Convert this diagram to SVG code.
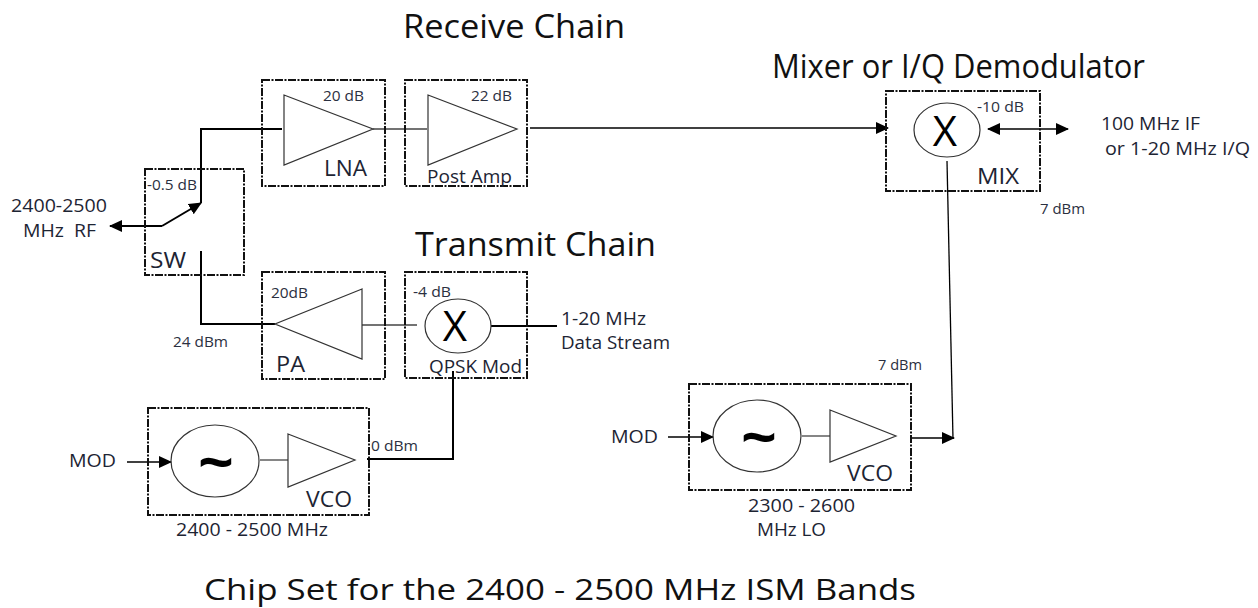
<svg xmlns="http://www.w3.org/2000/svg" width="1258" height="608" viewBox="0 0 1258 608">
<defs>
<marker id="ah" markerWidth="14" markerHeight="12" refX="12" refY="6" orient="auto-start-reverse" markerUnits="userSpaceOnUse"><path d="M0,0 L13,6 L0,12 Z" fill="#000"/></marker>
</defs>
<style>
text{font-family:"Open Sans","Noto Sans","DejaVu Sans",sans-serif;fill:#1d2433;white-space:pre}
.box{fill:none;stroke:#111;stroke-width:2;stroke-dasharray:8 1.5 2 1.5}
.sym{fill:none;stroke:#333;stroke-width:1.2}
.w{fill:none;stroke:#000;stroke-width:2}
.t{fill:none;stroke:#444;stroke-width:1.3}
.n{fill:none;stroke:#000;stroke-width:1.3}
.s{font-size:14px;fill:#2b3040}.m{font-size:17px}.p{font-size:18px}.l{font-size:21px}.h{font-size:32px;fill:#111}.x{font-size:42px;fill:#000}
.tl{font-size:58px;font-weight:700;fill:#000}
</style>
<rect width="1258" height="608" fill="#fff"/>
<g id="connectors">
<path class="w" d="M282,129 H201 V203"/>
<path class="w" d="M162,226 H110" marker-end="url(#ah)"/>
<path class="w" d="M162,226 L201,203" marker-end="url(#ah)"/>
<path class="w" d="M201,251 V324 H275"/>
<path class="t" d="M373,129 H427"/>
<path class="n" d="M530,128 H888" marker-end="url(#ah)"/>
<path class="t" d="M362,325 H417"/>
<path class="w" d="M491,326 H557"/>
<path class="w" d="M453,371 V459 H367"/>
<path class="n" d="M127,462 H171" marker-end="url(#ah)"/>
<path class="t" d="M260,460 H288"/>
<path class="w" d="M988,129 H1068" marker-start="url(#ah)" marker-end="url(#ah)" style="stroke-width:1.5"/>
<path class="n" d="M947,161 L953,439"/>
<path class="n" d="M668,437 H713" marker-end="url(#ah)"/>
<path class="t" d="M802,436 H830"/>
<path class="n" d="M910,438 H954" marker-end="url(#ah)"/>
</g>
<g id="sw"><rect class="box" x="145" y="169" width="99" height="106"/><text class="s" x="147" y="190" textLength="50" lengthAdjust="spacingAndGlyphs">-0.5 dB</text><text class="l" x="150" y="268" textLength="36" lengthAdjust="spacingAndGlyphs">SW</text></g>
<g id="lna"><rect class="box" x="262" y="80" width="123" height="106"/><path class="sym" d="M284,95 L373,129 L284,165 Z"/><text class="s" x="323" y="101" textLength="41" lengthAdjust="spacingAndGlyphs">20 dB</text><text class="l" x="324" y="176" textLength="43" lengthAdjust="spacingAndGlyphs">LNA</text></g>
<g id="postamp"><rect class="box" x="405" y="80" width="122" height="106"/><path class="sym" d="M428,95 L517,129 L428,165 Z"/><text class="s" x="471" y="101" textLength="41" lengthAdjust="spacingAndGlyphs">22 dB</text><text class="p" x="427" y="183" textLength="85" lengthAdjust="spacingAndGlyphs">Post Amp</text></g>
<g id="pa"><rect class="box" x="262" y="272" width="123" height="107"/><path class="sym" d="M362,289 L275,324 L362,359 Z"/><text class="s" x="271" y="298" textLength="37" lengthAdjust="spacingAndGlyphs">20dB</text><text class="l" x="276" y="372" textLength="29" lengthAdjust="spacingAndGlyphs">PA</text></g>
<g id="qpsk"><rect class="box" x="405" y="272" width="122" height="106"/><ellipse class="sym" cx="458" cy="326" rx="33" ry="27"/><text class="x" x="455" y="341" text-anchor="middle">X</text><text class="s" x="413" y="297" textLength="38" lengthAdjust="spacingAndGlyphs">-4 dB</text><text class="p" x="429" y="373" textLength="93" lengthAdjust="spacingAndGlyphs">QPSK Mod</text></g>
<g id="vco1"><rect class="box" x="148" y="408" width="221" height="107"/><ellipse class="sym" cx="215" cy="461" rx="44" ry="36"/><text class="tl" x="198" y="483" textLength="36" lengthAdjust="spacingAndGlyphs">~</text><path class="sym" d="M288,434 L355,460 L288,487 Z"/><text class="l" x="306" y="507" textLength="46" lengthAdjust="spacingAndGlyphs">VCO</text></g>
<g id="vco2"><rect class="box" x="689" y="384" width="222" height="106"/><ellipse class="sym" cx="757" cy="436" rx="44" ry="36"/><text class="tl" x="741" y="458" textLength="36" lengthAdjust="spacingAndGlyphs">~</text><path class="sym" d="M830,410 L896,436 L830,462 Z"/><text class="l" x="847" y="481" textLength="46" lengthAdjust="spacingAndGlyphs">VCO</text></g>
<g id="mix"><rect class="box" x="886" y="91" width="154" height="100"/><ellipse class="sym" cx="947" cy="130" rx="33" ry="27"/><text class="x" x="945" y="146" text-anchor="middle">X</text><text class="s" x="977" y="112" textLength="47" lengthAdjust="spacingAndGlyphs">-10 dB</text><text class="l" x="977" y="184" textLength="42" lengthAdjust="spacingAndGlyphs">MIX</text></g>
<g id="labels">
<text class="h" x="403" y="38" textLength="222" lengthAdjust="spacingAndGlyphs">Receive Chain</text>
<text class="h" x="415" y="256" textLength="241" lengthAdjust="spacingAndGlyphs">Transmit Chain</text>
<text class="h" x="772" y="78" textLength="373" lengthAdjust="spacingAndGlyphs">Mixer or I/Q Demodulator</text>
<text class="h" x="204" y="600" textLength="712" lengthAdjust="spacingAndGlyphs" style="font-size:30px">Chip Set for the 2400 - 2500 MHz ISM Bands</text>
<text class="p" x="11" y="212" textLength="96" lengthAdjust="spacingAndGlyphs">2400-2500</text>
<text class="p" x="23" y="237" textLength="73" lengthAdjust="spacingAndGlyphs">MHz  RF</text>
<text class="s" x="173" y="347" textLength="55" lengthAdjust="spacingAndGlyphs">24 dBm</text>
<text class="p" x="561" y="325" textLength="85" lengthAdjust="spacingAndGlyphs">1-20 MHz</text>
<text class="p" x="561" y="349" textLength="109" lengthAdjust="spacingAndGlyphs">Data Stream</text>
<text class="p" x="69" y="467" textLength="47" lengthAdjust="spacingAndGlyphs">MOD</text>
<text class="s" x="371" y="451" textLength="47" lengthAdjust="spacingAndGlyphs">0 dBm</text>
<text class="p" x="176" y="536" textLength="152" lengthAdjust="spacingAndGlyphs">2400 - 2500 MHz</text>
<text class="p" x="611" y="443" textLength="47" lengthAdjust="spacingAndGlyphs">MOD</text>
<text class="s" x="878" y="370" textLength="44" lengthAdjust="spacingAndGlyphs">7 dBm</text>
<text class="p" x="748" y="512" textLength="107" lengthAdjust="spacingAndGlyphs">2300 - 2600</text>
<text class="p" x="757" y="536" textLength="69" lengthAdjust="spacingAndGlyphs">MHz LO</text>
<text class="p" x="1101" y="130" textLength="99" lengthAdjust="spacingAndGlyphs">100 MHz IF</text>
<text class="p" x="1105" y="155" textLength="145" lengthAdjust="spacingAndGlyphs">or 1-20 MHz I/Q</text>
<text class="s" x="1040" y="214" textLength="45" lengthAdjust="spacingAndGlyphs">7 dBm</text>
</g>
</svg>
